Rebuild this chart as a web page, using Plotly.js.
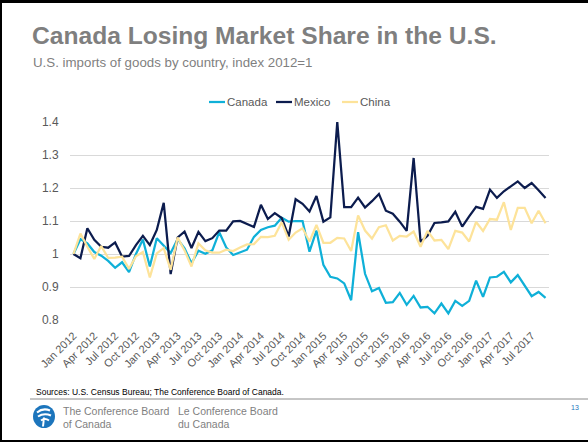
<!DOCTYPE html>
<html>
<head>
<meta charset="utf-8">
<script src="https://cdn.plot.ly/plotly-3.0.1.min.js"></script>
<style>
  html, body { margin: 0; padding: 0; background: #fff; }
  #wrap { position: relative; width: 588px; height: 442px; overflow: hidden; }
  #chart { position: absolute; left: 0; top: 0; width: 588px; height: 442px; }
  #frame { position: absolute; left: 0; top: 0; width: 588px; height: 442px; box-sizing: border-box;
           border-top: 3px solid #000; border-left: 2px solid #000; border-bottom: 2px solid #000; pointer-events: none; }
</style>
</head>
<body>
<div id="wrap"><div id="chart"></div><div id="frame"></div></div>
<script>
const months = ["Jan 2012","Feb 2012","Mar 2012","Apr 2012","May 2012","Jun 2012","Jul 2012","Aug 2012","Sep 2012","Oct 2012","Nov 2012","Dec 2012",
"Jan 2013","Feb 2013","Mar 2013","Apr 2013","May 2013","Jun 2013","Jul 2013","Aug 2013","Sep 2013","Oct 2013","Nov 2013","Dec 2013",
"Jan 2014","Feb 2014","Mar 2014","Apr 2014","May 2014","Jun 2014","Jul 2014","Aug 2014","Sep 2014","Oct 2014","Nov 2014","Dec 2014",
"Jan 2015","Feb 2015","Mar 2015","Apr 2015","May 2015","Jun 2015","Jul 2015","Aug 2015","Sep 2015","Oct 2015","Nov 2015","Dec 2015",
"Jan 2016","Feb 2016","Mar 2016","Apr 2016","May 2016","Jun 2016","Jul 2016","Aug 2016","Sep 2016","Oct 2016","Nov 2016","Dec 2016",
"Jan 2017","Feb 2017","Mar 2017","Apr 2017","May 2017","Jun 2017","Jul 2017","Aug 2017","Sep 2017"];

const tickLabels = ["Jan 2012","Apr 2012","Jul 2012","Oct 2012","Jan 2013","Apr 2013","Jul 2013","Oct 2013",
"Jan 2014","Apr 2014","Jul 2014","Oct 2014","Jan 2015","Apr 2015","Jul 2015","Oct 2015",
"Jan 2016","Apr 2016","Jul 2016","Oct 2016","Jan 2017","Apr 2017","Jul 2017"];

const canada = [1.000, 1.045, 1.032, 1.006, 0.995, 0.979, 0.958, 0.975, 0.945, 1.000, 1.044, 0.962, 1.048,
 1.027, 1.003, 1.045, 1.017, 0.972, 1.010, 1.001, 1.011, 1.066, 1.020, 0.997, 1.006, 1.013, 1.052,
 1.073, 1.081, 1.086, 1.110, 1.098, 1.100, 1.100, 1.007, 1.071, 0.967, 0.931, 0.926, 0.911, 0.860,
 1.066, 0.940, 0.887, 0.897, 0.852, 0.854, 0.882, 0.846, 0.873, 0.838, 0.840, 0.820, 0.850, 0.820,
 0.858, 0.843, 0.858, 0.919, 0.870, 0.929, 0.931, 0.946, 0.914, 0.936, 0.905, 0.872, 0.885, 0.867];

const mexico = [1.000, 0.987, 1.078, 1.043, 1.022, 1.019, 1.035, 0.992, 0.994, 1.027, 1.055, 1.027, 1.073,
 1.155, 0.939, 1.050, 1.068, 1.018, 1.067, 1.039, 1.048, 1.071, 1.071, 1.099, 1.100, 1.091, 1.082,
 1.149, 1.106, 1.124, 1.109, 1.053, 1.166, 1.152, 1.129, 1.176, 1.098, 1.111, 1.400, 1.142, 1.142,
 1.171, 1.141, 1.160, 1.182, 1.131, 1.122, 1.098, 1.070, 1.291, 1.037, 1.055, 1.094, 1.096, 1.099,
 1.128, 1.083, 1.114, 1.143, 1.137, 1.195, 1.170, 1.190, 1.205, 1.220, 1.200, 1.215, 1.193, 1.170];

const china = [1.000, 1.062, 1.022, 0.985, 1.024, 0.988, 0.989, 0.992, 0.955, 0.993, 1.006, 0.929, 1.002,
 1.018, 0.952, 1.050, 1.011, 0.962, 1.032, 1.011, 1.004, 1.004, 1.013, 1.009, 1.020, 1.029, 1.030,
 1.052, 1.051, 1.055, 1.096, 1.043, 1.065, 1.078, 1.038, 1.088, 1.034, 1.034, 1.049, 1.047, 1.009,
 1.117, 1.071, 1.047, 1.081, 1.087, 1.041, 1.055, 1.053, 1.068, 1.022, 1.070, 1.041, 1.043, 1.015,
 1.070, 1.065, 1.038, 1.097, 1.070, 1.106, 1.104, 1.157, 1.073, 1.140, 1.140, 1.093, 1.131, 1.093];

const seriesNames = ["Canada", "Mexico", "China"];
const seriesColors = ["#0fb0d8", "#0c1c4e", "#fde39a"];
const seriesValues = [canada, mexico, china];

// plot area in pixels
const L = 70, R = 549, T = 122, B = 320;
const W = 588, H = 442;
const px = x => (x - L) / (R - L);
const py = y => (B - y) / (B - T);

const FONT = "Liberation Sans, Arial, sans-serif";
const GRAY = "#7f7f7f";

const traces = seriesValues.map((vals, k) => ({
  type: "scatter", mode: "lines", x: months, y: vals, name: seriesNames[k],
  line: { color: seriesColors[k], width: 2.25 }, hoverinfo: "skip"
}));

// manual legend
const legendY = 102;
const legendItems = [
  { line: [209, 225], text: 225 },
  { line: [276, 292], text: 292 },
  { line: [342, 358], text: 358 }
];
const shapes = [];
const annotations = [];
legendItems.forEach((it, k) => {
  shapes.push({ type: "line", xref: "paper", yref: "paper", x0: px(it.line[0]), x1: px(it.line[1]),
    y0: py(legendY), y1: py(legendY), line: { color: seriesColors[k], width: 2.25 } });
  annotations.push({ xref: "paper", yref: "paper", x: px(it.text), y: py(legendY), xanchor: "left", yanchor: "middle",
    text: seriesNames[k], showarrow: false, font: { family: FONT, size: 11.5, color: "#595959" } });
});

// subtitle
annotations.push({ xref: "paper", yref: "paper", x: px(31), y: py(63), xanchor: "left", yanchor: "middle",
  text: "U.S. imports of goods by country, index 2012=1", showarrow: false, font: { family: FONT, size: 13.3, color: GRAY } });
// sources
annotations.push({ xref: "paper", yref: "paper", x: px(34), y: py(392), xanchor: "left", yanchor: "middle",
  text: "Sources: U.S. Census Bureau; The Conference Board of Canada.", showarrow: false, font: { family: FONT, size: 8.5, color: "#000" } });
// footer
const footer = [
  { x: 61, y: 411, t: "The Conference Board" }, { x: 61, y: 424, t: "of Canada" },
  { x: 176, y: 411, t: "Le Conference Board" }, { x: 176, y: 424, t: "du Canada" }
];
footer.forEach(f => annotations.push({ xref: "paper", yref: "paper", x: px(f.x), y: py(f.y), xanchor: "left", yanchor: "middle",
  text: f.t, showarrow: false, font: { family: FONT, size: 10.5, color: GRAY } }));
annotations.push({ xref: "paper", yref: "paper", x: px(569), y: py(407), xanchor: "left", yanchor: "middle",
  text: "13", showarrow: false, font: { family: FONT, size: 7, color: "#1c75bc" } });

// separator
shapes.push({ type: "line", xref: "paper", yref: "paper", x0: px(30), x1: px(590), y0: py(399), y1: py(399),
  line: { color: "#8c8c8c", width: 1 } });
// logo
shapes.push({ type: "circle", xref: "paper", yref: "paper", x0: px(33), x1: px(55), y0: py(428), y1: py(405),
  fillcolor: "#1c75bc", line: { width: 0 } });
shapes.push({ type: "path", xref: "paper", yref: "paper", xsizemode: "pixel", ysizemode: "pixel",
  xanchor: px(44), yanchor: py(416.5),
  path: "M -7 4 Q -1 9 6 6 M -6 0 Q 0 4 7 1 M -3 -4 Q 1 -1 5 -4 M 0 -1 L -1 -10",
  line: { color: "#ffffff", width: 2 } });

const layout = {
  width: W, height: H,
  margin: { l: L, r: W - R, t: T, b: H - B, pad: 0 },
  paper_bgcolor: "#fff", plot_bgcolor: "#fff",
  showlegend: false,
  title: { text: "<b>Canada Losing Market Share in the U.S.</b>", xref: "container", yref: "container",
    x: 32 / W, xanchor: "left", y: 1 - 35 / H, yanchor: "middle", font: { family: FONT, size: 24.6, color: GRAY } },
  xaxis: {
    type: "category", range: [-0.5, months.length - 0.5], tickmode: "array", tickvals: tickLabels, ticktext: tickLabels,
    tickangle: -45, showgrid: false, zeroline: false, showline: false,
    ticks: "outside", ticklen: 4, tickcolor: "rgba(0,0,0,0)",
    tickfont: { family: FONT, size: 11, color: "#595959" }
  },
  yaxis: {
    range: [0.8, 1.4], tickvals: [0.8, 0.9, 1.0, 1.1, 1.2, 1.3, 1.4], ticktext: ["0.8","0.9","1","1.1","1.2","1.3","1.4"],
    showgrid: true, gridcolor: "#d9d9d9", gridwidth: 1, zeroline: false, showline: false,
    ticks: "outside", ticklen: 8, tickcolor: "rgba(0,0,0,0)",
    tickfont: { family: FONT, size: 12, color: "#595959" }
  },
  shapes: shapes,
  annotations: annotations
};

Plotly.newPlot("chart", traces, layout, { staticPlot: true, displayModeBar: false });
</script>
</body>
</html>
